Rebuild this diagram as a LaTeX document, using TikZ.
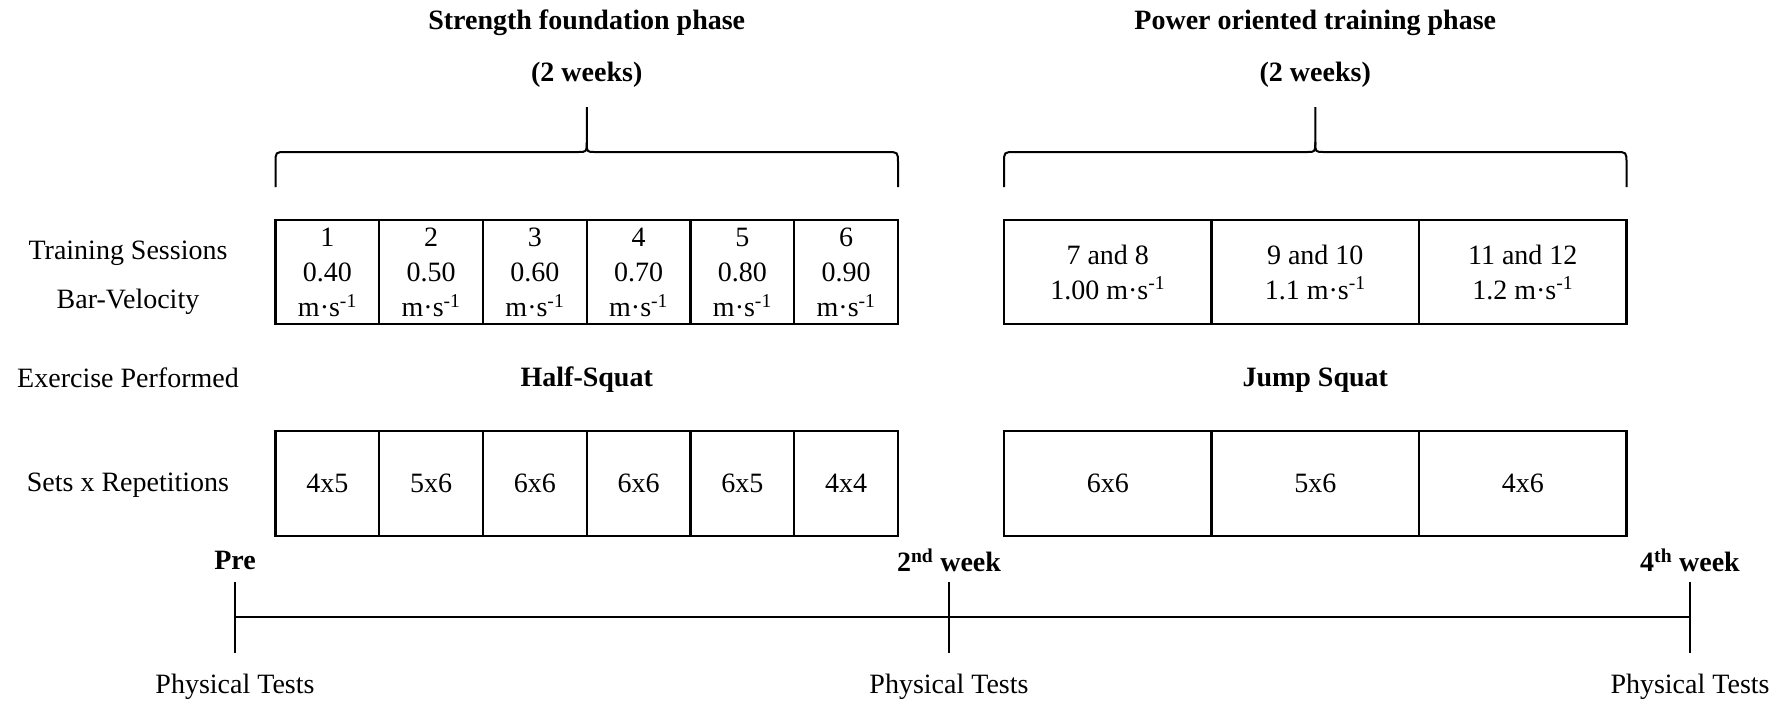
\documentclass[tikz,border=0pt]{standalone}
\usepackage{fontspec}
\setmainfont{Liberation Serif}
\newcommand{\msunit}{m\textperiodcentered s\textsuperscript{-1}}
\begin{document}
\begin{tikzpicture}[x=1pt,y=-1pt,
  every node/.style={font=\fontsize{28}{35}\selectfont, inner sep=0pt, outer sep=0pt},
  cell/.style={draw, line width=2.2pt, minimum width=103.75pt, minimum height=104pt, align=center},
  wcell/.style={draw, line width=2.2pt, minimum width=207.5pt, minimum height=104pt, align=center},
  lbl/.style={align=center},
  ttl/.style={font=\fontsize{28}{35}\selectfont\bfseries},
  brace/.style={line width=2pt, line join=round},
  tick/.style={line width=2pt},
  axis/.style={line width=2.6pt}]
\useasboundingbox (0,0) rectangle (1789,705);

% titles
\node[ttl] (t1) at (586.75,23) {Strength foundation phase};
\node[ttl] (t1b) at (586.75,75) {(2 weeks)};
\node[ttl] (t2) at (1315.25,23) {Power oriented training phase};
\node[ttl] (t2b) at (1315.25,75) {(2 weeks)};

% braces
\draw[brace] (275.5,187) -- (275.5,163) .. controls (275.5,152) .. (286,152) -- (578,152) .. controls (586.75,152) .. (586.75,142) -- (586.75,107);
\draw[brace] (586.75,142) .. controls (586.75,152) .. (595,152) -- (887,152) .. controls (898,152) .. (898,163) -- (898,187);
\draw[brace] (1004,187) -- (1004,163) .. controls (1004,152) .. (1015,152) -- (1307,152) .. controls (1315.25,152) .. (1315.25,142) -- (1315.25,107);
\draw[brace] (1315.25,142) .. controls (1315.25,152) .. (1324,152) -- (1615.5,152) .. controls (1626.5,152) .. (1626.5,163) -- (1626.5,187);

% row labels
\node[lbl] (l1) at (128,253) {Training Sessions};
\node[lbl] (l2) at (128,302) {Bar-Velocity};
\node[lbl] (l3) at (128,378) {Exercise Performed};
\node[lbl] (l4) at (128,485) {Sets x Repetitions};

% top cells, strength phase
\node[cell] (a1) at (327.4,272) {1\\0.40\\\msunit};
\node[cell] (a2) at (431.1,272) {2\\0.50\\\msunit};
\node[cell] (a3) at (534.9,272) {3\\0.60\\\msunit};
\node[cell] (a4) at (638.6,272) {4\\0.70\\\msunit};
\node[cell] (a5) at (742.4,272) {5\\0.80\\\msunit};
\node[cell] (a6) at (846.1,272) {6\\0.90\\\msunit};

% top cells, power phase
\node[wcell] (b1) at (1107.75,272) {7 and 8\\1.00 \msunit};
\node[wcell] (b2) at (1315.25,272) {9 and 10\\1.1 \msunit};
\node[wcell] (b3) at (1522.75,272) {11 and 12\\1.2 \msunit};

% exercises
\node[ttl] (e1) at (586.75,380) {Half-Squat};
\node[ttl] (e2) at (1315.25,380) {Jump Squat};

% bottom cells
\node[cell, minimum height=105pt] (c1) at (327.4,483.2) {4x5};
\node[cell, minimum height=105pt] (c2) at (431.1,483.2) {5x6};
\node[cell, minimum height=105pt] (c3) at (534.9,483.2) {6x6};
\node[cell, minimum height=105pt] (c4) at (638.6,483.2) {6x6};
\node[cell, minimum height=105pt] (c5) at (742.4,483.2) {6x5};
\node[cell, minimum height=105pt] (c6) at (846.1,483.2) {4x4};
\node[wcell, minimum height=105pt] (d1) at (1107.75,483.2) {6x6};
\node[wcell, minimum height=105pt] (d2) at (1315.25,483.2) {5x6};
\node[wcell, minimum height=105pt] (d3) at (1522.75,483.2) {4x6};

% timeline
\node[ttl] (w0) at (235,560) {Pre};
\node[ttl] (w2) at (949,560) {2\textsuperscript{nd} week};
\node[ttl] (w4) at (1690,560) {4\textsuperscript{th} week};
\coordinate (p0t) at (235,582); \coordinate (p0b) at (235,653);
\coordinate (p2t) at (949,582); \coordinate (p2b) at (949,653);
\coordinate (p4t) at (1690,582); \coordinate (p4b) at (1690,653);
\coordinate (m0) at (235,617); \coordinate (m4) at (1690,617);
\draw[tick] (p0t) -- (p0b);
\draw[tick] (p2t) -- (p2b);
\draw[tick] (p4t) -- (p4b);
\draw[axis] (m0) -- (m4);
\node (f0) at (235,687) {Physical Tests};
\node (f2) at (949,687) {Physical Tests};
\node (f4) at (1690,687) {Physical Tests};
\end{tikzpicture}
\end{document}
